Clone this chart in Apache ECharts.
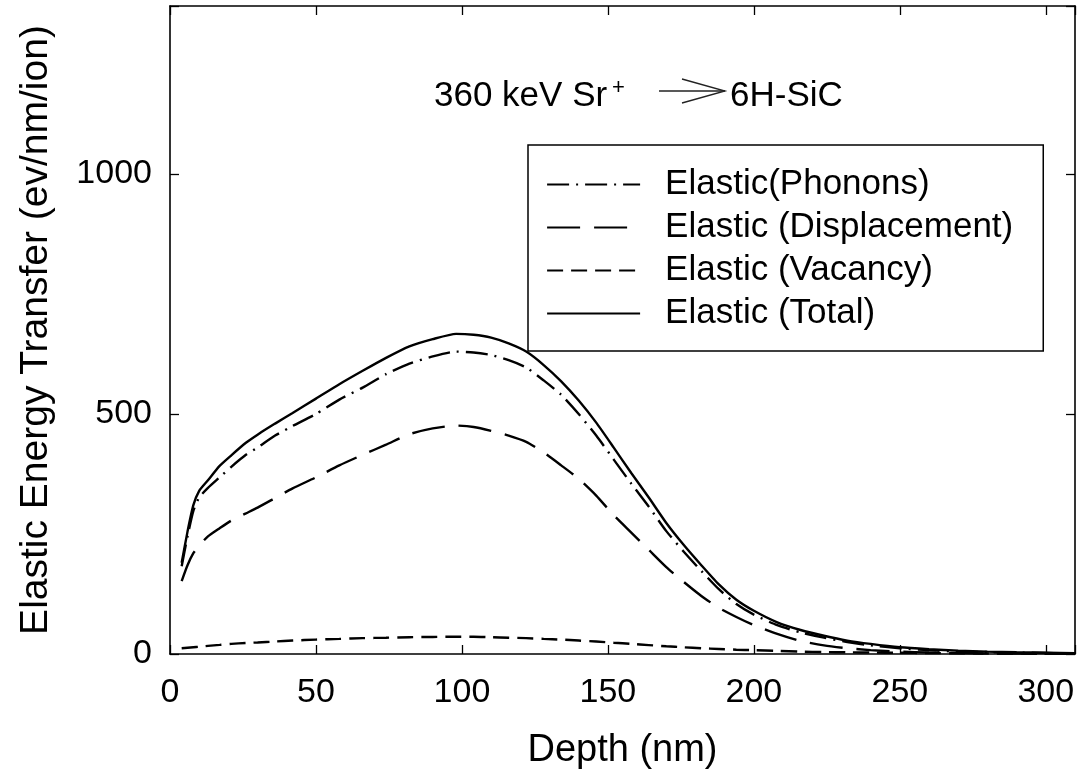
<!DOCTYPE html>
<html>
<head>
<meta charset="utf-8">
<script src="https://cdn.jsdelivr.net/npm/echarts@6/dist/echarts.min.js"></script>
<style>
html,body{margin:0;padding:0;background:#fff;}
#chart{width:1079px;height:782px;}
</style>
</head>
<body>
<div id="chart"></div>
<script>
// ---- data ----
var depth = [4,6,8,10,13,17,21,26,30,36,42,50,58,66,74,82,90,98,104,110,116,122,128,134,140,146,152,158,164,170,176,182,188,194,200,208,216,224,232,240,250,260,270,280,290,300,310];
var phonons = [183,245,298,326,346,368,390,415,430,455,475,500,530,555,583,605,620,630,628,623,612,597,570,540,500,455,405,355,307,256,213,173,135,104,82,60,45,34,25,18,12,8,5,4,3,2,1];
var displacement = [152,185,210,226,245,262,278,293,305,325,345,368,393,415,436,458,470,476,473,465,455,442,420,393,365,330,289,253,217,181,150,121,96,77,60,42,27,18,12,8,5,3,2,1,1,0.5,0.3];
var vacancy = [12,13,14,15,17,19,21,23,24,26,28,30,31.5,33,34,35,35.5,36,36,35,34,33,31.5,30,28,26,23.5,21,18.5,16,14,12,10.5,9,8,6.5,5,4,3.5,3,2.5,2,1.5,1,0.8,0.5,0.3];
var total = [190,255,310,340,362,392,414,440,457,480,502,532,562,590,617,641,656,667,665,659,647,630,602,568,528,482,430,377,326,273,227,185,145,113,90,66,50,38,28,21,14,10,7,5,3.5,2.5,1.5];
var seriesNames = ['Elastic(Phonons)', 'Elastic (Displacement)', 'Elastic (Vacancy)', 'Elastic (Total)'];
var xTicks = [0,50,100,150,200,250,300];
var yTicks = [0,500,1000];

function pairs(vals){ return depth.map(function(d,i){ return [d, vals[i]]; }); }

var FONT = '"Liberation Sans", Arial, Helvetica, sans-serif';
var chart = echarts.init(document.getElementById('chart'), null, {renderer:'canvas'});

function mkSeries(name, vals, dash, z){
  return {
    name: name, type: 'line', data: pairs(vals), symbol: 'none', smooth: 0.2,
    xAxisIndex: 0, yAxisIndex: 0, z: z, color: '#000',
    itemStyle: {color: '#000'},
    lineStyle: {color: '#000', width: 2.4, type: dash},
    emphasis: {disabled: true}
  };
}

var baseAxisX = {
  type: 'value', min: 0, max: 310, interval: 50,
  splitLine: {show: false},
  axisLine: {show: true, onZero: false, lineStyle: {color: '#000', width: 1.6}},
  axisTick: {show: true, inside: true, length: 9, lineStyle: {color: '#000', width: 1.3}}
};
var baseAxisY = {
  type: 'value', min: 0, max: 1350, interval: 500,
  splitLine: {show: false},
  axisLine: {show: true, onZero: false, lineStyle: {color: '#000', width: 1.6}},
  axisTick: {show: true, inside: true, length: 9, lineStyle: {color: '#000', width: 1.3}}
};

var option = {
  backgroundColor: '#fff',
  animation: false,
  textStyle: {fontFamily: FONT},
  grid: {left: 170, right: 4, top: 6, bottom: 128, containLabel: false},
  xAxis: [
    Object.assign({}, baseAxisX, {
      position: 'bottom',
      name: 'Depth (nm)', nameLocation: 'middle', nameGap: 78,
      nameTextStyle: {fontSize: 38, color: '#000', fontFamily: FONT},
      axisLabel: {show: true, margin: 22, fontSize: 34, color: '#000', fontFamily: FONT,
        formatter: function(v){ return xTicks.indexOf(v) >= 0 ? String(v) : ''; }}
    }),
    Object.assign({}, baseAxisX, {position: 'top', axisLabel: {show: false}})
  ],
  yAxis: [
    Object.assign({}, baseAxisY, {
      position: 'left',
      name: 'Elastic Energy Transfer (ev/nm/ion)', nameLocation: 'middle', nameGap: 114,
      nameTextStyle: {fontSize: 39, color: '#000', fontFamily: FONT},
      axisLabel: {show: true, margin: 18, fontSize: 34, color: '#000', fontFamily: FONT,
        formatter: function(v){ return yTicks.indexOf(v) >= 0 ? String(v) : ''; }}
    }),
    Object.assign({}, baseAxisY, {position: 'right', axisLabel: {show: false}})
  ],
  legend: {
    show: true, orient: 'vertical', left: 528, top: 145,
    data: seriesNames,
    backgroundColor: '#fff', borderColor: '#000', borderWidth: 1.5,
    padding: [22, 30, 20, 18],
    itemWidth: 93, itemHeight: 14, itemGap: 8,
    selectedMode: false,
    itemStyle: {opacity: 0, borderWidth: 0},
    lineStyle: {width: 2.2},
    textStyle: {fontSize: 35, color: '#000', fontFamily: FONT, lineHeight: 35, padding: [0,0,0,20]}
  },
  series: [
    mkSeries(seriesNames[0], phonons, [22, 7, 2, 7], 3),
    mkSeries(seriesNames[1], displacement, [33, 14], 3),
    mkSeries(seriesNames[2], vacancy, [16, 8], 3),
    mkSeries(seriesNames[3], total, 'solid', 4)
  ],
  graphic: [
    {type: 'text', left: 434, top: 79, z: 10,
      style: {text: '360 keV Sr', font: '35px ' + FONT, fill: '#000'}},
    {type: 'text', left: 612, top: 77, z: 10,
      style: {text: '+', font: '22px ' + FONT, fill: '#000'}},
    {type: 'text', left: 730, top: 79, z: 10,
      style: {text: '6H-SiC', font: '35px ' + FONT, fill: '#000'}},
    {type: 'polyline', z: 10, shape: {points: [[659, 91], [725, 91]]},
      style: {stroke: '#222', lineWidth: 1.3, fill: null}},
    {type: 'polyline', z: 10, shape: {points: [[682, 79], [725, 91], [682, 103]]},
      style: {stroke: '#222', lineWidth: 1.3, fill: null}}
  ]
};
chart.setOption(option);
</script>
</body>
</html>
